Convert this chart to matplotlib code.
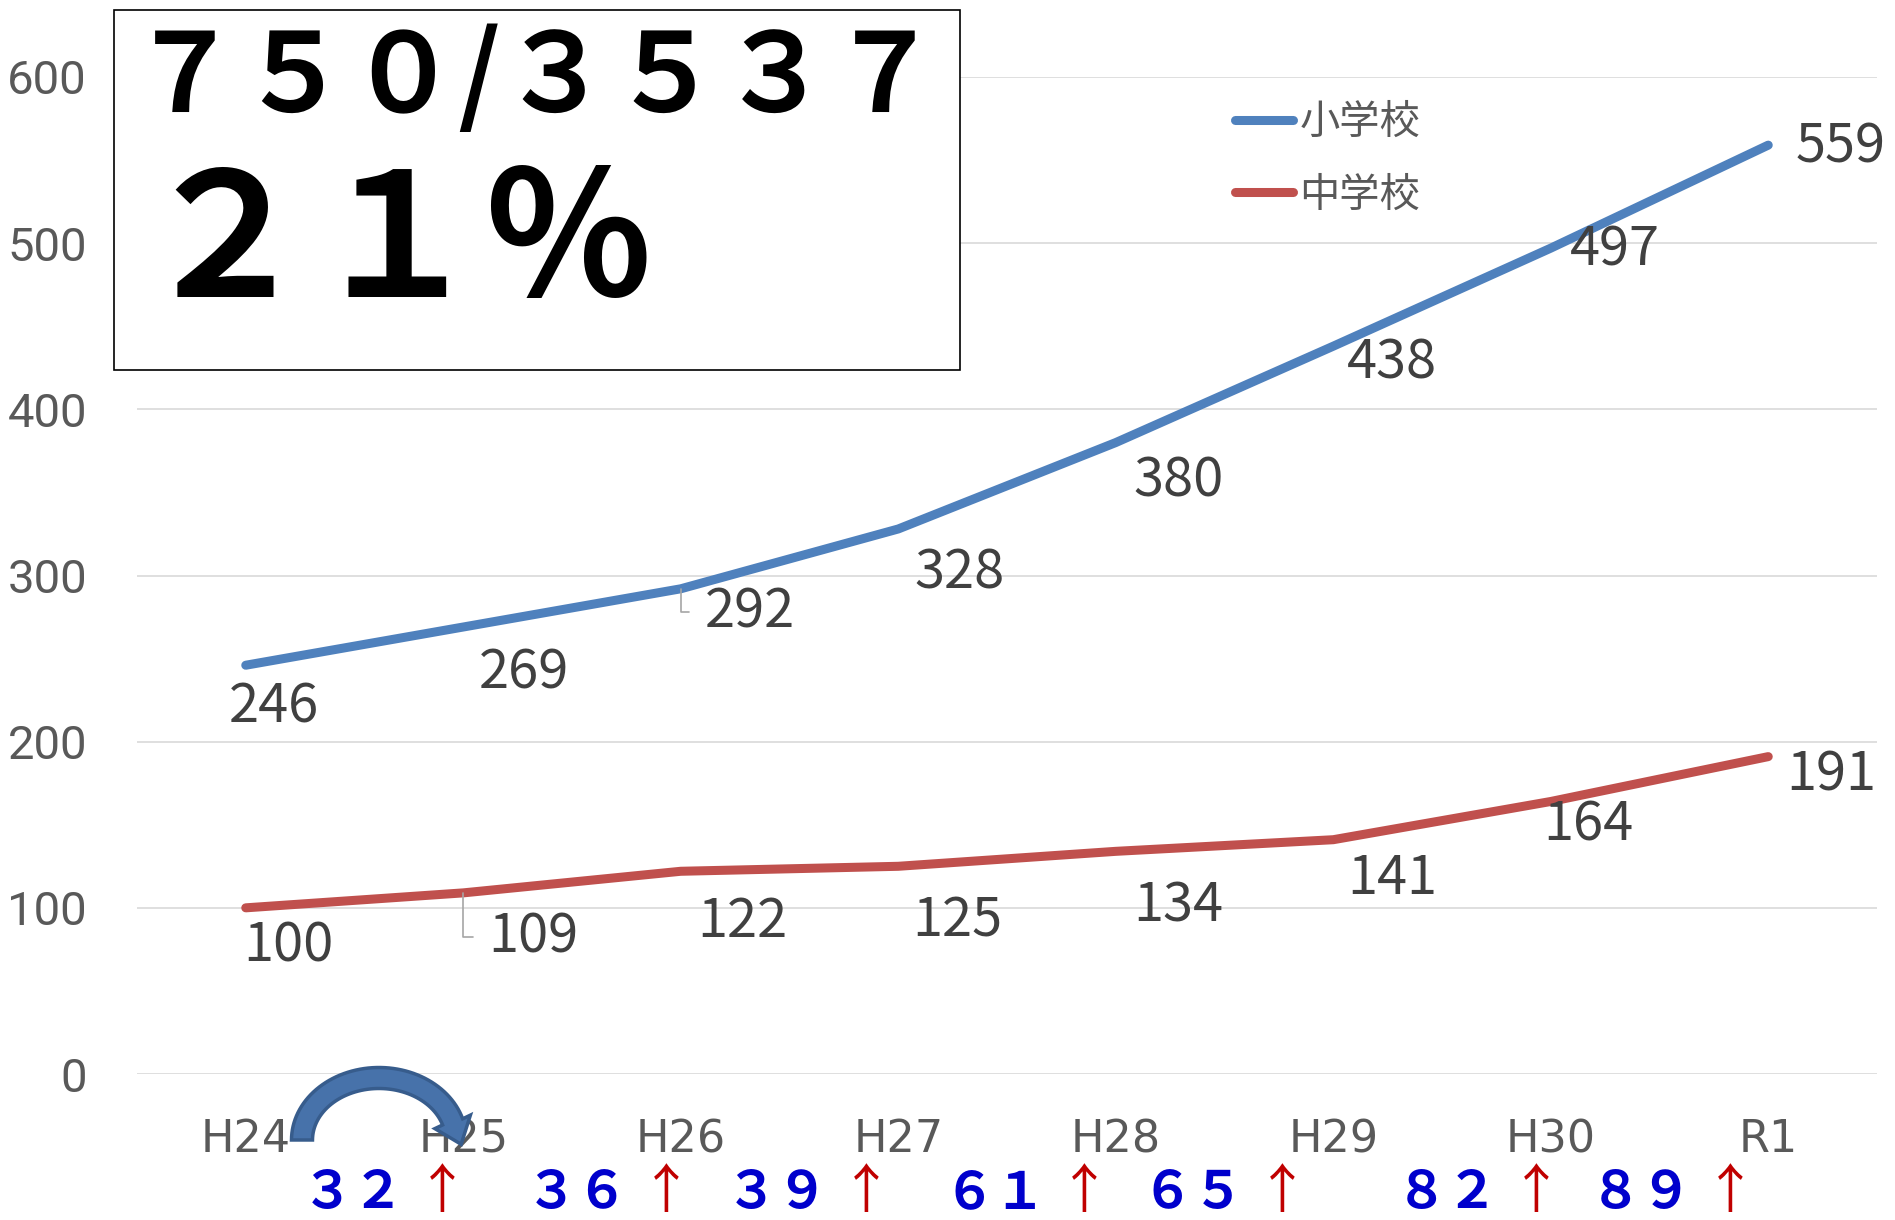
import numpy as np
import matplotlib.pyplot as plt
from matplotlib.patches import Rectangle, Polygon
from matplotlib.transforms import IdentityTransform

plt.rcParams['font.family'] = ['Noto Sans CJK JP', 'DejaVu Sans']

# データ
years = ['H24', 'H25', 'H26', 'H27', 'H28', 'H29', 'H30', 'R1']
shogakko = [246, 269, 292, 328, 380, 438, 497, 559]
chugakko = [100, 109, 122, 125, 134, 141, 164, 191]
zouka = [32, 36, 39, 61, 65, 82, 89]
box_line1 = '７５０/３５３７'
box_line2 = '２１％'

def zen(s):
    # 半角数字 -> 全角数字
    return ''.join(chr(ord(c) + 0xFEE0) if c.isdigit() else c for c in str(s))

W, H = 1895, 1220
fig = plt.figure(figsize=(W / 100, H / 100), dpi=100)
ax = fig.add_axes([137 / W, 146 / H, 1740 / W, 997 / H])
x = np.arange(len(years))

ax.plot(x, shogakko, color='#4F81BD', lw=6.5, solid_capstyle='round', label='小学校', zorder=3)
ax.plot(x, chugakko, color='#C0504D', lw=6.5, solid_capstyle='round', label='中学校', zorder=3)

ax.set_xlim(-0.5, len(years) - 0.5)
ax.set_ylim(0, 600)
ax.set_yticks(range(0, 601, 100))
ax.set_xticks(x)
ax.set_xticklabels(years, family='DejaVu Sans', fontsize=32, color='#595959')
for t in ax.get_yticklabels():
    t.set_family('Roboto')
    t.set_fontsize(34)
    t.set_color('#595959')
ax.tick_params(axis='x', length=0, pad=32)
ax.tick_params(axis='y', length=0, pad=36)
ax.grid(axis='y', color='#D9D9D9', lw=1.2)
ax.set_axisbelow(True)
for s in ax.spines.values():
    s.set_visible(False)

# データラベル (左端 dx, 中心 dy ピクセル)
off_sho = [(-17, 42), (16, 46), (24, 23), (16, 44), (18, 38), (14, 17), (19, 2), (27, 2)]
off_chu = [(-2, 38), (25, 44), (17, 50), (14, 55), (18, 55), (14, 39), (-7, 24), (18, 18)]
leader = {('s', 2), ('c', 1)}
for key, vals, offs in [('s', shogakko, off_sho), ('c', chugakko, off_chu)]:
    for i, (v, (dx, dy)) in enumerate(zip(vals, offs)):
        kw = {}
        if (key, i) in leader:
            kw['arrowprops'] = dict(arrowstyle='-', color='#A6A6A6', lw=1.2,
                                    connectionstyle='angle,angleA=0,angleB=90,rad=0',
                                    relpos=(0, 0.5), shrinkA=9, shrinkB=0)
        ax.annotate(str(v), (i, v), xytext=(dx, -dy), textcoords='offset pixels',
                    ha='left', va='center', fontsize=39, color='#404040',
                    annotation_clip=False, zorder=4, **kw)

# 凡例
leg = ax.legend(loc='upper left', bbox_to_anchor=(1235 / W, 1 - 102 / H), bbox_transform=fig.transFigure,
                frameon=False, fontsize=29, handlelength=1.45, handletextpad=0.15,
                labelspacing=0.78, borderpad=0, borderaxespad=0)
for t in leg.get_texts():
    t.set_color('#595959')

# 増加数
right_x = [0.73, 1.76, 2.68, 3.68, 4.59, 5.76, 6.65]
tr = ax.get_xaxis_transform()
for xr, z in zip(right_x, zouka):
    ax.text(xr, -0.119, zen(z), transform=tr, ha='right', va='center', fontsize=37,
            fontweight='bold', color='#0000CC', clip_on=False)
    ax.annotate('↑', (xr, -0.119), xycoords=tr, xytext=(38, 0), textcoords='offset pixels',
                ha='center', va='center', fontsize=38, color='#C00000', annotation_clip=False)

# 曲がった矢印 (ピクセル座標, 下から)
cx, cy, a, b, w = 379, H - 1140, 77, 62, 21
th_end = np.deg2rad(17)
th = np.linspace(np.pi, th_end, 60)
outer = np.c_[cx + (a + w / 2) * np.cos(th), cy + (b + w / 2) * np.sin(th)]
inner = np.c_[cx + (a - w / 2) * np.cos(th[::-1]), cy + (b - w / 2) * np.sin(th[::-1])]
p = np.array([cx + a * np.cos(th_end), cy + b * np.sin(th_end)])
d = np.array([a * np.sin(th_end), -b * np.cos(th_end)])
d /= np.linalg.norm(d)
n = np.array([b * np.cos(th_end), a * np.sin(th_end)])
n /= np.linalg.norm(n)
head = np.array([p + n * 19, p + d * 24, p - n * 19])
arc = Polygon(np.vstack([outer, head, inner]), closed=True, transform=IdentityTransform(),
              fc='#4772AA', ec='#375C8C', lw=2.5, zorder=6)
fig.add_artist(arc)

# 左上の枠
fig.add_artist(Rectangle((114 / W, 1 - 370 / H), 846 / W, 360 / H, transform=fig.transFigure,
                         fc='white', ec='black', lw=1.2, zorder=10))
fig.text(130 / W, 1 - 80 / H, box_line1, ha='left', va='center', fontsize=79,
         fontweight='bold', color='black', zorder=11)
fig.text(138 / W, 1 - 247 / H, box_line2, ha='left', va='center', fontsize=124,
         fontweight='bold', color='black', zorder=11)

fig.savefig('out.png', dpi=100)
